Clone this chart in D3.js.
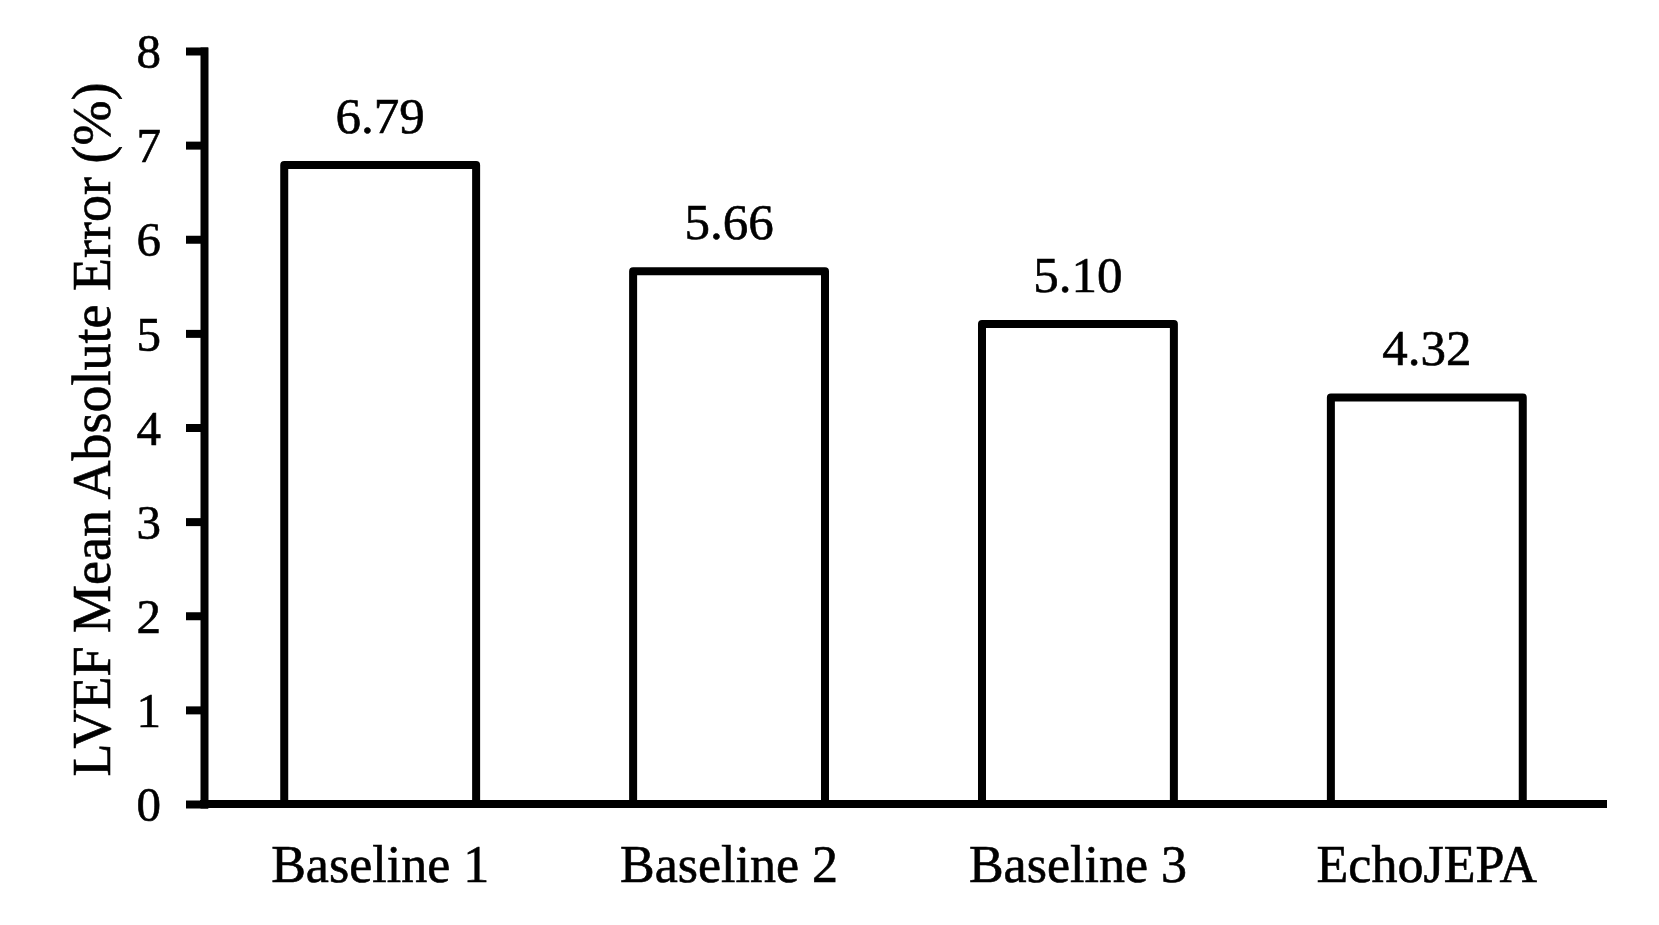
<!DOCTYPE html>
<html lang="en">
<head>
    <meta charset="UTF-8"/>
    <title>LVEF Mean Absolute Error</title>
    <script src="https://d3js.org/d3.v7.min.js"></script>
    <style>
	body {
		margin: 0;
		background: #fff;
	}

	text {
		font-family: "Liberation Serif", "DejaVu Serif", serif;
		fill: #000;
		stroke: #000;
		stroke-width: 0.6px;
	}

	.bar {
		fill: #fff;
		stroke: #000;
		stroke-width: 8px;
		stroke-linejoin: round;
	}

	.axis path,
	.axis line {
		fill: none;
		stroke: #000;
		stroke-width: 8px;
		stroke-linecap: square;
	}

	.y.axis text {
		font-size: 49px;
	}

	.x.axis text {
		font-size: 52px;
	}

	.valueLabel {
		font-size: 51px;
	}

	.yTitle {
		font-size: 54px;
	}
	</style>
</head>
<body>
	<div id="chart"></div>
	<script>
		var w = 1659; // Width
		var h = 925; // Height

		// data
		var models = ["Baseline 1", "Baseline 2", "Baseline 3", "EchoJEPA"];
		var mae = [6.79, 5.66, 5.10, 4.32];
		var yTicks = [0, 1, 2, 3, 4, 5, 6, 7, 8];
		var yLabel = "LVEF Mean Absolute Error (%)";

		// plot area edges (window.top is taken, so no "top" here)
		var plotLeft = 204, plotRight = 1603, plotTop = 51, plotBottom = 804;

		var xScale = d3.scaleBand()
			.domain(models)
			.range([plotLeft, plotRight])
			.paddingInner(0.45)
			.paddingOuter(0.23);

		var yScale = d3.scaleLinear()
			.domain([0, 8])
			.range([plotBottom, plotTop]);

		var svg = d3.select("#chart")
			.append("svg")
			.attr("width", w)
			.attr("height", h);

		svg.selectAll(".bar")
			.data(models)
			.enter()
			.append("rect")
			.attr("class", "bar")
			.attr("x", function(d) { return xScale(d); })
			.attr("y", function(d, i) { return yScale(mae[i]); })
			.attr("width", xScale.bandwidth())
			.attr("height", function(d, i) { return yScale(0) - yScale(mae[i]); });

		svg.selectAll(".valueLabel")
			.data(models)
			.enter()
			.append("text")
			.attr("class", "valueLabel")
			.attr("text-anchor", "middle")
			.attr("x", function(d) { return xScale(d) + xScale.bandwidth() / 2; })
			.attr("y", function(d, i) { return yScale(mae[i]) - 32; })
			.text(function(d, i) { return mae[i].toFixed(2); });

		var yAxis = d3.axisLeft()
			.scale(yScale)
			.tickValues(yTicks)
			.tickFormat(d3.format("d"))
			.tickSize(14)
			.tickSizeOuter(0)
			.tickPadding(29);

		var xAxis = d3.axisBottom()
			.scale(xScale)
			.tickSize(0)
			.tickSizeOuter(0);

		var gy = svg.append("g")
			.attr("class", "y axis")
			.attr("transform", "translate(" + plotLeft + ",0)")
			.call(yAxis);

		gy.selectAll("text")
			.attr("dy", "0.34em");

		var gx = svg.append("g")
			.attr("class", "x axis")
			.attr("transform", "translate(0," + plotBottom + ")")
			.call(xAxis);

		gx.select(".domain")
			.attr("d", "M" + plotLeft + ",0H" + plotRight);

		gx.selectAll("text")
			.attr("y", 78)
			.attr("dy", 0);

		svg.append("text")
			.attr("class", "yTitle")
			.attr("text-anchor", "middle")
			.attr("transform", "translate(110," + ((plotTop + plotBottom) / 2 + 2) + ") rotate(-90)")
			.text(yLabel);
	</script>
</body>
</html>
